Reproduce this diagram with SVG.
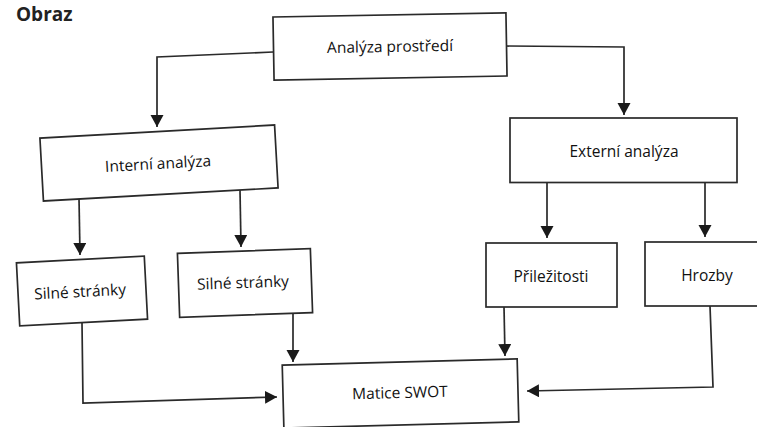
<svg xmlns="http://www.w3.org/2000/svg" width="757" height="427" viewBox="0 0 757 427">
<style>
.box{fill:#fff;stroke:#2a2a2a;stroke-width:1.7}
.lbl{font-family:"Open Sans","Noto Sans",sans-serif;font-size:15.5px;font-weight:500;fill:#111;text-anchor:middle;dominant-baseline:central}
.con{fill:none;stroke:#2a2a2a;stroke-width:1.7}
</style>
<defs>
<marker id="arr" markerUnits="userSpaceOnUse" markerWidth="14" markerHeight="14" refX="12" refY="6.5" orient="auto">
<path d="M0,0 L12,6.5 L0,13 z" fill="#1a1a1a"/>
</marker>
</defs>
<rect width="757" height="427" fill="#fff"/>
<text x="16" y="21" style="font-family:'Open Sans',sans-serif;font-size:19px;font-weight:bold;fill:#222">Obraz</text>
<g id="connectors">
<polyline class="con" points="273,52 157,57 157,127" marker-end="url(#arr)"/>
<polyline class="con" points="506,46 624,47 624,115" marker-end="url(#arr)"/>
<polyline class="con" points="79,198 80,255" marker-end="url(#arr)"/>
<polyline class="con" points="240,190 241,247" marker-end="url(#arr)"/>
<polyline class="con" points="547,183 547,238" marker-end="url(#arr)"/>
<polyline class="con" points="705,182 705,237" marker-end="url(#arr)"/>
<polyline class="con" points="82,323 83,403 277,397" marker-end="url(#arr)"/>
<polyline class="con" points="293,314 293,362" marker-end="url(#arr)"/>
<polyline class="con" points="504,307 505,356" marker-end="url(#arr)"/>
<polyline class="con" points="710,306 713,387 527,391" marker-end="url(#arr)"/>
</g>
<g id="analyza" transform="rotate(-1 390 46.5)">
<rect class="box" x="273.5" y="15" width="233" height="63"/>
<text class="lbl" x="390" y="46">Analýza prostředí</text>
</g>
<g id="interni" transform="rotate(-3.2 159 163)">
<rect class="box" x="41.5" y="131.5" width="235" height="63"/>
<text class="lbl" x="158" y="163">Interní analýza</text>
</g>
<g id="externi">
<rect class="box" x="510" y="118" width="227" height="64.5"/>
<text class="lbl" x="624" y="151">Externí analýza</text>
</g>
<g id="silne1" transform="rotate(-3 82 291)">
<rect class="box" x="18" y="259.5" width="128" height="63"/>
<text class="lbl" x="80" y="291">Silné stránky</text>
</g>
<g id="silne2" transform="rotate(-2 245 283)">
<rect class="box" x="178.5" y="251" width="133" height="64"/>
<text class="lbl" x="243" y="282">Silné stránky</text>
</g>
<g id="prilezitosti">
<rect class="box" x="486" y="243" width="131" height="64"/>
<text class="lbl" x="551" y="276">Přiležitosti</text>
</g>
<g id="hrozby">
<rect class="box" x="645" y="242" width="130" height="64"/>
<text class="lbl" x="707" y="275">Hrozby</text>
</g>
<g id="matice" transform="rotate(-1.5 400 393)">
<rect class="box" x="283" y="362" width="235" height="63"/>
<text class="lbl" x="400" y="392">Matice SWOT</text>
</g>
</svg>
